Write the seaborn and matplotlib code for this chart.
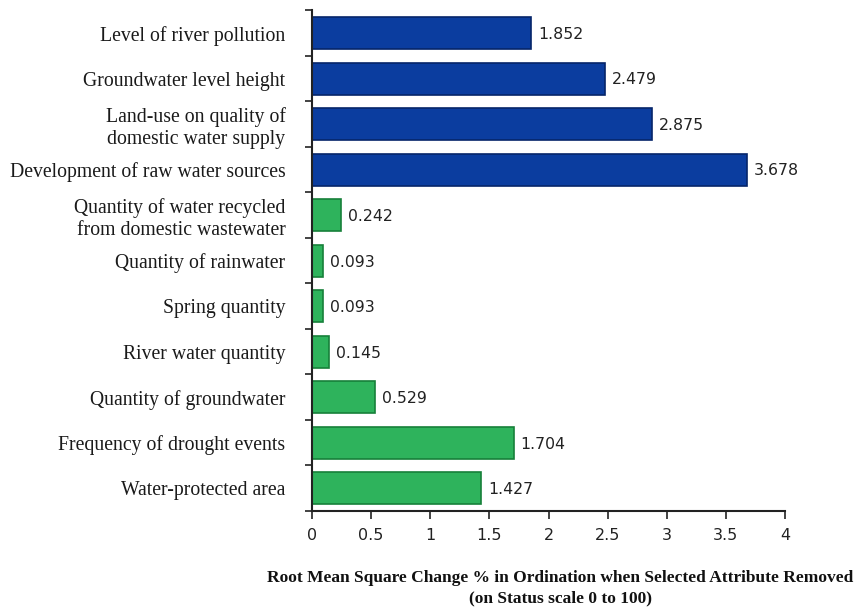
import numpy as np
import pandas as pd
import matplotlib
matplotlib.use("Agg")
import matplotlib.pyplot as plt
import seaborn as sns
from matplotlib.ticker import FixedLocator

categories = [
    "Level of river pollution",
    "Groundwater level height",
    "Land-use on quality of\ndomestic water supply",
    "Development of raw water sources",
    "Quantity of water recycled\nfrom domestic wastewater",
    "Quantity of rainwater",
    "Spring quantity",
    "River water quantity",
    "Quantity of groundwater",
    "Frequency of drought events",
    "Water-protected area",
]
values = [1.852, 2.479, 2.875, 3.678, 0.242, 0.093, 0.093, 0.145, 0.529, 1.704, 1.427]
groups = ["quality"] * 4 + ["quantity"] * 7
x_ticks = [0, 0.5, 1, 1.5, 2, 2.5, 3, 3.5, 4]
x_tick_labels = ["0", "0.5", "1", "1.5", "2", "2.5", "3", "3.5", "4"]

df = pd.DataFrame({"attribute": categories, "rms": values, "group": groups})

sns.set_theme(style="white")
plt.rcParams["font.family"] = ["DejaVu Sans"]

fig = plt.figure(figsize=(8.58, 6.09), dpi=100)
ax = fig.add_axes([0.3636, 0.161, 0.5514, 0.822])

palette = {"quality": "#0b3d9f", "quantity": "#2eb35c"}
edges = {"quality": "#06256a", "quantity": "#17803a"}

sns.barplot(data=df, x="rms", y="attribute", hue="group", palette=palette,
            dodge=False, width=0.7, legend=False, ax=ax, saturation=1)

for patch, g in zip(ax.patches, groups):
    patch.set_edgecolor(edges[g])
    patch.set_linewidth(1.2)

for i, v in enumerate(values):
    ax.text(v + 0.06, i + 0.03, f"{v:.3f}", va="center", ha="left",
            fontsize=11.3, color="#222222", family="DejaVu Sans")

ax.set_xlim(0, 4)
ax.set_ylim(len(categories) - 0.5, -0.5)
ax.set_xticks(x_ticks)
ax.set_xticklabels(x_tick_labels, fontsize=11.5, color="#222222")
ax.set_yticks(range(len(categories)))
ax.set_yticklabels(categories, fontsize=14.2, family="Liberation Serif",
                   color="#1a1a1a", linespacing=1.2)
ax.yaxis.set_minor_locator(FixedLocator(np.arange(-0.5, len(categories), 1.0)))
ax.tick_params(axis="y", which="major", length=0, pad=19)
ax.tick_params(axis="y", which="minor", length=5, width=1.2, color="#222222", direction="out", left=True)
ax.tick_params(axis="x", which="major", length=6, width=1.2, color="#222222", direction="out", bottom=True, pad=6)

for side in ["top", "right"]:
    ax.spines[side].set_visible(False)
for side in ["left", "bottom"]:
    ax.spines[side].set_color("#222222")
    ax.spines[side].set_linewidth(1.5)

ax.set_xlabel("Root Mean Square Change % in Ordination when Selected Attribute Removed\n(on Status scale 0 to 100)",
              fontsize=12.5, fontweight="bold", family="Liberation Serif",
              color="#111111", linespacing=1.35)
ax.xaxis.set_label_coords(0.525, -0.118)
ax.set_ylabel("")

fig.savefig("out.png", dpi=100)
